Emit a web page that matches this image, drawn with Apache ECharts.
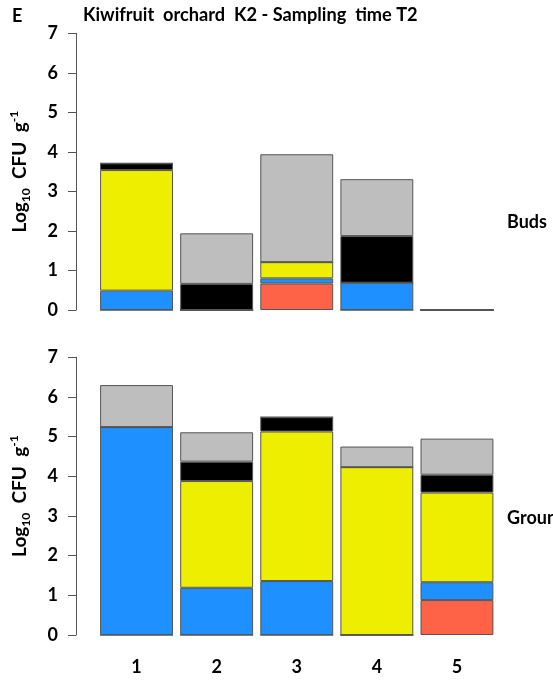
<!DOCTYPE html>
<html>
<head>
<meta charset="utf-8">
<script src="https://cdn.jsdelivr.net/npm/echarts@6/dist/echarts.min.js"></script>
<style>
html,body{margin:0;padding:0;background:#fff;}
#chart{width:553px;height:684px;}
</style>
</head>
<body>
<div id="chart"></div>
<script>
// Categories (samples)
const categories = ['1', '2', '3', '4', '5'];
const yTicks = [0, 1, 2, 3, 4, 5, 6, 7];

// Buds panel: stacked segment values (log10 CFU/g), bottom to top
const budsRed    = [0, 0, 0.67, 0, 0];
const budsBlue   = [0.49, 0, 0.13, 0.69, 0];
const budsYellow = [3.05, 0, 0.41, 0, 0];
const budsBlack  = [0.17, 0.66, 0, 1.18, 0];
const budsGray   = [0, 1.28, 2.73, 1.44, 0];

// Ground panel: stacked segment values, bottom to top
const groundRed    = [0, 0, 0, 0, 0.88];
const groundBlue   = [5.24, 1.19, 1.36, 0, 0.45];
const groundYellow = [0, 2.69, 3.77, 4.23, 2.26];
const groundBlack  = [0, 0.49, 0.36, 0, 0.45];
const groundGray   = [1.06, 0.74, 0, 0.52, 0.91];

const colors = {red: '#FF6347', blue: '#1E90FF', yellow: '#EEEE00', black: '#000000', gray: '#BEBEBE'};
const FONT = 'Lato';

const chart = echarts.init(document.getElementById('chart'), null, {renderer: 'canvas'});

function makeSeries(panel, idx, arrs) {
  const keys = ['red', 'blue', 'yellow', 'black', 'gray'];
  return keys.map((k, i) => ({
    name: panel + '-' + k,
    type: 'bar',
    stack: panel,
    xAxisIndex: idx,
    yAxisIndex: idx,
    data: arrs[i],
    barCategoryGap: '9%',
    itemStyle: {color: colors[k], borderColor: '#555', borderWidth: 1},
    emphasis: {disabled: true},
    animation: false
  }));
}

const yName = '{b|Log}{sub|10}{b|  CFU  g}{sup|-1}';
const yNameRich = {
  b: {fontFamily: FONT, fontWeight: 'bold', fontSize: 19, color: '#000', height: 24},
  sub: {fontFamily: FONT, fontWeight: 'bold', fontSize: 12, color: '#000', verticalAlign: 'bottom', padding: [7, 0, 0, 0]},
  sup: {fontFamily: FONT, fontWeight: 'bold', fontSize: 12, color: '#000', verticalAlign: 'top', padding: [0, 0, 9, 0]}
};

function makeY(idx) {
  return {
    type: 'value', gridIndex: idx, min: 0, max: 7, interval: 1,
    position: 'left', offset: 20.5,
    axisLine: {show: true, lineStyle: {color: '#555', width: 1}},
    axisTick: {show: true, inside: false, length: 8, lineStyle: {color: '#555'}},
    splitLine: {show: false},
    axisLabel: {fontFamily: FONT, fontWeight: 'bold', fontSize: 18, color: '#000', margin: 18},
    name: yName, nameLocation: 'middle', nameRotate: 90, nameGap: 44,
    nameTextStyle: {rich: yNameRich}
  };
}

const option = {
  backgroundColor: '#fff',
  animation: false,
  grid: [
    {left: 96.5, right: 56, top: 33.3, height: 276.7},
    {left: 96.5, right: 56, top: 357.3, height: 277.7}
  ],
  xAxis: [
    {type: 'category', gridIndex: 0, data: categories,
     axisLine: {show: false}, axisTick: {show: false}, axisLabel: {show: false}},
    {type: 'category', gridIndex: 1, data: categories,
     axisLine: {show: false}, axisTick: {show: false},
     axisLabel: {fontFamily: FONT, fontWeight: 'bold', fontSize: 18, color: '#000', margin: 23}}
  ],
  yAxis: [makeY(0), makeY(1)],
  series: [
    ...makeSeries('buds', 0, [budsRed, budsBlue, budsYellow, budsBlack, budsGray]),
    ...makeSeries('ground', 1, [groundRed, groundBlue, groundYellow, groundBlack, groundGray])
  ],
  graphic: [
    {type: 'text', left: 12, top: 7, style: {text: 'E', fontFamily: FONT, fontWeight: 'bold', fontSize: 18, fill: '#000'}},
    {type: 'text', left: 83, top: 6, style: {text: 'Kiwifruit  orchard  K2 - Sampling  time T2', fontFamily: FONT, fontWeight: 'bold', fontSize: 18.2, fill: '#000'}},
    {type: 'text', left: 507, top: 213, style: {text: 'Buds', fontFamily: FONT, fontWeight: 'bold', fontSize: 18, fill: '#000'}},
    {type: 'text', left: 507, top: 509, style: {text: 'Ground', fontFamily: FONT, fontWeight: 'bold', fontSize: 18, fill: '#000'}}
  ]
};
chart.setOption(option);
</script>
</body>
</html>
